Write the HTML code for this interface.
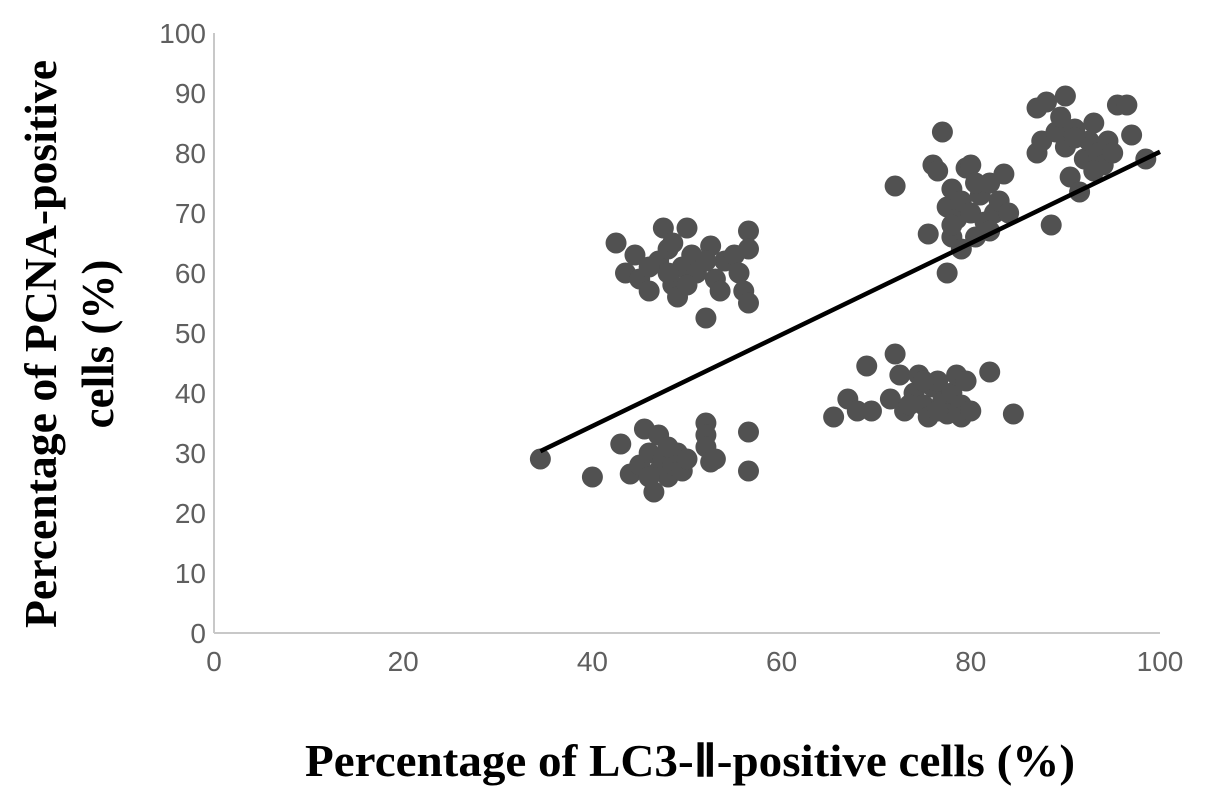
<!DOCTYPE html>
<html><head><meta charset="utf-8"><style>
html,body{margin:0;padding:0;background:#fff;}
svg{display:block;}
.tick{font-family:"Liberation Sans",sans-serif;font-size:28px;fill:#5f5f5f;}
.title{font-family:"Liberation Serif",serif;font-weight:bold;font-size:45px;fill:#000;}
</style></head><body>
<svg id="chart" width="1205" height="801" viewBox="0 0 1205 801">
<g id="axes"></g>
<g id="points"></g>
<g id="trend"></g>
<text class="title" x="305" y="776" textLength="770" lengthAdjust="spacingAndGlyphs">Percentage of LC3-Ⅱ-positive cells (%)</text>
<g transform="translate(0,344) rotate(-90)">
<text class="title" x="-284" y="56" textLength="568" lengthAdjust="spacingAndGlyphs">Percentage of PCNA-positive</text>
<text class="title" x="0" y="113" text-anchor="middle">cells (%)</text>
</g>
</svg>
<script>
const xTicks=[0,20,40,60,80,100];
const yTicks=[0,10,20,30,40,50,60,70,80,90,100];
const xVals=[42.5,43.5,44.5,45,46,47,47.5,48,48.5,49,49.5,50,50.5,51,52,52.5,53,53.5,54,55,55.5,56,56.5,56.5,56.5,48,46,50,52,48.5,
34.5,40,43,44,45,45.5,46,46.5,47,47,47.5,48,48.5,49,49.5,50,52,52,52,52.5,53,56.5,56.5,46,48,
65.5,67,68,69.5,69,71.5,72,72.5,73,74,74.5,75,75.5,76,76.5,77,77.5,78,78.5,79,79,79.5,80,82,84.5,73.5,75,76.5,
72,75.5,76,76.5,77,77.5,77.5,78,78,78.5,79,79.5,80,80,80.5,81,81.5,82,82.5,83,83.5,84,78,79,80.5,82,
87,87,87.5,88,88.5,89,89.5,90,90,90.5,91,91.5,92,92.5,93,93.5,94,94.5,95,95.5,96.5,97,98.5,91,93];
const yVals=[65,60,63,59,57,62,67.5,64,58,56,61,67.5,63,60,52.5,64.5,59,57,62,63,60,57,55,67,64,60,61,58,62,65,
29,26,31.5,26.5,28,34,30,23.5,27,33,29,26,28,30,27,29,35,33,31,28.5,29,33.5,27,26,31,
36,39,37,37,44.5,39,46.5,43,37,40,43,38,36,41,42,38.5,36.5,40,43,38,36,42,37,43.5,36.5,38,42,37,
74.5,66.5,78,77,83.5,71,60,74,66,69,72,77.5,78,70,66,73,68.5,75,70,72,76.5,70,68,64,75,67,
87.5,80,82,88.5,68,83.5,86,89.5,81,76,84,73.5,79,82,85,80,78,82,80,88,88,83,79,82.5,77];
const trendX=[34.5,100];
const trendY=[30.3,80.2];
const X0=214,X1=1160,Y0=633,Y1=33;
const sx=v=>X0+(v-0)/(100-0)*(X1-X0);
const sy=v=>Y0-(v-0)/(100-0)*(Y0-Y1);
const NS="http://www.w3.org/2000/svg";
const axes=document.getElementById('axes');
function mk(tag,attrs,parent){const e=document.createElementNS(NS,tag);for(const k in attrs)e.setAttribute(k,attrs[k]);parent.appendChild(e);return e;}
const ya=mk('line',{x1:X0,y1:Y1,x2:X0,y2:Y0,stroke:'#c8c8c8','stroke-width':2},axes);


const xa=mk('line',{x1:X0,y1:Y0,x2:X1,y2:Y0,stroke:'#c8c8c8','stroke-width':2},axes);


yTicks.forEach(t=>{const e=mk('text',{x:206,y:sy(t)+10,'text-anchor':'end','class':'tick'},axes);e.textContent=t;

});
xTicks.forEach(t=>{const e=mk('text',{x:sx(t),y:671,'text-anchor':'middle','class':'tick'},axes);e.textContent=t;

});
const pts=document.getElementById('points');
xVals.forEach((v,i)=>{const c=mk('circle',{cx:sx(v),cy:sy(yVals[i]),r:10.5,fill:'#515151'},pts);

});
const tl=mk('line',{x1:sx(trendX[0]),y1:sy(trendY[0]),x2:sx(trendX[1]),y2:sy(trendY[1]),stroke:'#000','stroke-width':4.5},document.getElementById('trend'));


</script>
</body></html>
